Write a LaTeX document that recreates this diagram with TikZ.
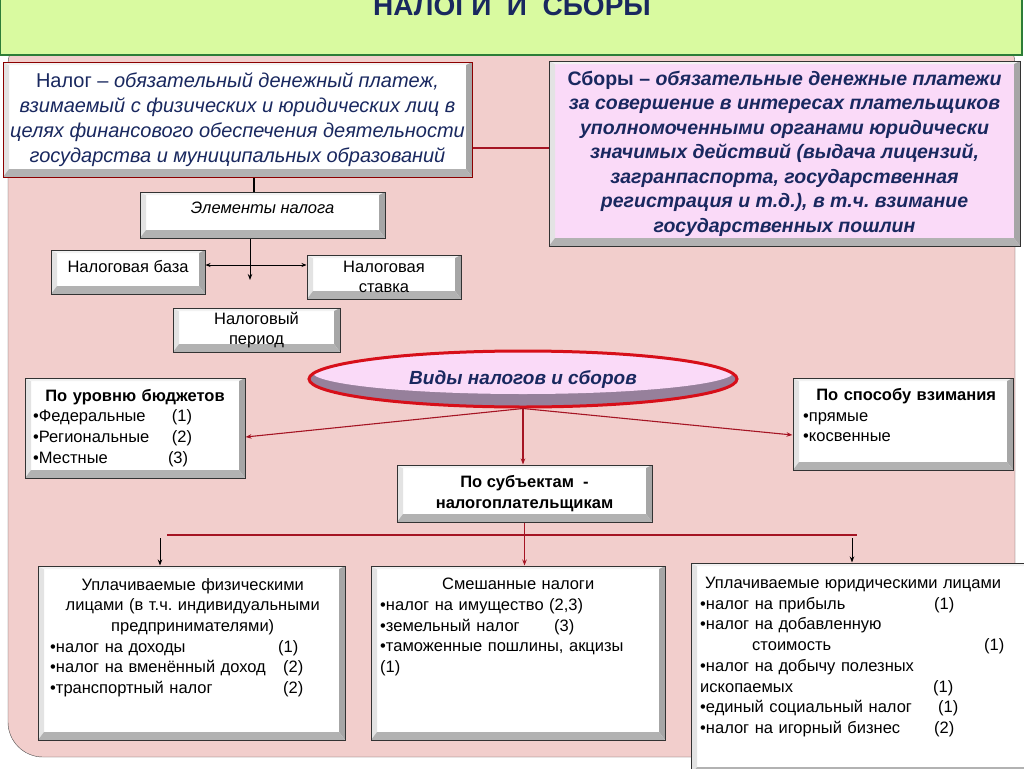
\documentclass[tikz,border=0pt]{standalone}
\usepackage{fontspec}
\setmainfont{Liberation Sans}
\usetikzlibrary{shapes.geometric, arrows.meta}
\frenchspacing

\definecolor{bandgreen}{RGB}{217,250,160}
\definecolor{bandedge}{RGB}{45,125,55}
\definecolor{panelpink}{RGB}{242,206,204}
\definecolor{navy}{RGB}{25,40,95}
\definecolor{feepink}{RGB}{250,218,248}
\definecolor{kindshade}{RGB}{150,128,155}
\definecolor{linkred}{RGB}{165,20,35}
\definecolor{ovalred}{RGB}{215,15,25}

\tikzset{
    bevel/.style = {draw = #1, fill = white, line width = 1pt, inner sep = 0pt, path picture = {
        \fill[gray!22] (path picture bounding box.south west) -- (path picture bounding box.north west) -- ([shift = {(6pt,-3pt)}]path picture bounding box.north west) -- ([shift = {(6pt,8pt)}]path picture bounding box.south west) -- cycle;
        \fill[gray!10] (path picture bounding box.north west) -- (path picture bounding box.north east) -- ([shift = {(-6pt,-3pt)}]path picture bounding box.north east) -- ([shift = {(6pt,-3pt)}]path picture bounding box.north west) -- cycle;
        \fill[gray!70] (path picture bounding box.north east) -- (path picture bounding box.south east) -- ([shift = {(-6pt,8pt)}]path picture bounding box.south east) -- ([shift = {(-6pt,-3pt)}]path picture bounding box.north east) -- cycle;
        \fill[gray!60] (path picture bounding box.south west) -- (path picture bounding box.south east) -- ([shift = {(-6pt,8pt)}]path picture bounding box.south east) -- ([shift = {(6pt,8pt)}]path picture bounding box.south west) -- cycle;
    }},
    bevel/.default = black!80,
    link/.style = {draw = linkred, line width = 1.1pt},
    tip/.style = {-{Stealth[length = 6pt, width = 4.5pt]}},
    small/.style = {font = \fontsize{16.5}{20.7}\selectfont},
}

\begin{document}
\begin{tikzpicture}[x = 1pt, y = -1pt]
    \useasboundingbox (0, 0) rectangle (1024, 768);
    % background
    \draw[fill = panelpink, draw = black!70, rounded corners = 35pt] (8, 30) rectangle (1015, 757);
    \draw[fill = bandgreen, draw = bandedge, line width = 2pt] (0, -20) rectangle (1022, 55);
    \node (title) [anchor = base, text = navy, font = \bfseries\fontsize{28}{28}\selectfont] at (512, 16) {НАЛОГИ\ \ И\ \ СБОРЫ};

    % definitions
    \node (taxdef) [bevel = red!55!black, minimum width = 469, minimum height = 115, align = center, text = navy, font = \itshape\fontsize{20}{25}\selectfont] at (237.5, 119.5)
        {{\upshape Налог –} обязательный денежный платеж,\\ взимаемый с физических и юридических лиц в\\ целях финансового обеспечения деятельности\\ государства и муниципальных образований};
    \node (feedef) [bevel, fill = feepink, minimum width = 471, minimum height = 185, align = center, text = navy, font = \bfseries\itshape\fontsize{19.5}{24.5}\selectfont] at (784.5, 153.5)
        {{\upshape Сборы –} обязательные денежные платежи\\ за совершение в интересах плательщиков\\ уполномоченными органами юридически\\ значимых действий (выдача лицензий,\\ загранпаспорта, государственная\\ регистрация и т.д.), в т.ч. взимание\\ государственных пошлин};

    % elements
    \node (elements) [bevel, minimum width = 245, minimum height = 46, small, text depth = 14pt] at (262.5, 215) {\itshape Элементы налога};
    \node (base) [bevel, minimum width = 154, minimum height = 44, small, text depth = 12pt] at (128, 272) {Налоговая база};
    \node (rate) [bevel, minimum width = 154, minimum height = 44, small, align = center] at (384, 277) {Налоговая\\ ставка};
    \node (period) [bevel, minimum width = 167, minimum height = 44, small, align = center] at (256.5, 330) {Налоговый\\ период};

    % kinds
    \node (kinds) [ellipse, minimum width = 428, minimum height = 56, draw = ovalred, line width = 3pt, fill = kindshade, text = navy, font = \bfseries\itshape\fontsize{19}{19}\selectfont,
        path picture = {\fill[feepink] ([yshift = 7pt]path picture bounding box.center) ellipse [x radius = 211pt, y radius = 22pt];}] at (523, 379) {Виды налогов и сборов};
    \node (budget) [bevel, minimum width = 220, minimum height = 100, small, text width = 204, align = left] at (135, 428)
        {\makebox[\linewidth]{\bfseries По уровню бюджетов}\\ \makebox[139pt][l]{•Федеральные}(1)\\ \makebox[139pt][l]{•Региональные}(2)\\ \makebox[135pt][l]{•Местные}(3)};
    \node (method) [bevel, minimum width = 220, minimum height = 92] at (903, 424) {};
    \node (method-t) [small, anchor = north west, inner sep = 0pt, text width = 206, align = left] at (803, 388)
        {\makebox[\linewidth]{\bfseries По способу взимания}\\ •прямые\\ •косвенные};
    \node (subjects) [bevel, minimum width = 255, minimum height = 57, align = center, font = \bfseries\fontsize{16.5}{20.7}\selectfont] at (524.5, 493.5) {По субъектам\ \ -\\ налогоплательщикам};

    % payers
    \node (phys) [bevel, minimum width = 307, minimum height = 174] at (191.5, 653) {};
    \node (phys-t) [small, anchor = north west, inner sep = 0pt, text width = 285, align = left] at (50, 578)
        {\makebox[\linewidth]{Уплачиваемые физическими}\\ \makebox[\linewidth]{лицами (в т.ч. индивидуальными}\\ \makebox[\linewidth]{предпринимателями)}\\
         \makebox[228pt][l]{•налог на доходы}(1)\\ \makebox[233pt][l]{•налог на вменённый доход}(2)\\ \makebox[233pt][l]{•транспортный налог}(2)};
    \node (mixed) [bevel, minimum width = 294, minimum height = 174] at (518, 653) {};
    \node (mixed-t) [small, anchor = north west, inner sep = 0pt, text width = 276, align = left] at (380, 578)
        {\makebox[\linewidth]{Смешанные налоги}\\ •налог на имущество (2,3)\\ \makebox[174pt][l]{•земельный налог}(3)\\ •таможенные пошлины, акцизы\\ (1)};
    \node (legal) [bevel, minimum width = 339, minimum height = 212] at (860.5, 669) {};
    \node (legal-t) [small, anchor = north west, inner sep = 0pt, text width = 320, align = left] at (700, 577)
        {\hspace*{5pt}Уплачиваемые юридическими лицами\\ \makebox[234pt][l]{•налог на прибыль}(1)\\ •налог на добавленную\\ \hspace*{52pt}\makebox[232pt][l]{стоимость}(1)\\
         •налог на добычу полезных\\ \makebox[233pt][l]{ископаемых}(1)\\ \makebox[238pt][l]{•единый социальный налог}(1)\\ \makebox[234pt][l]{•налог на игорный бизнес}(2)};

    % connectors
    \coordinate (fork) at (250, 265);
    \coordinate (forkend) at (250, 280);
    \coordinate (busL) at (167, 535);
    \coordinate (busR) at (857, 535);
    \coordinate (physin) at (160, 538);
    \coordinate (legalin) at (852, 538);
    \draw[link] (taxdef.east |- 0, 148) -- (feedef.west |- 0, 148);
    \draw[line width = 1.5pt] (taxdef.south -| 254, 0) -- (elements.north -| 254, 0);
    \draw[line width = 1pt, tip] (elements.south -| fork) -- (forkend);
    \draw[line width = 1pt, {Stealth[length = 5pt, width = 4pt]}-{Stealth[length = 5pt, width = 4pt]}] (base.east |- fork) -- (rate.west |- fork);
    \draw[link, tip] (kinds.south) -- (budget.east |- 0, 437);
    \draw[link, tip] (kinds.south) -- (method.west |- 0, 435);
    \draw[link, tip] (kinds.south) -- (kinds.south |- subjects.north);
    \draw[link] (subjects.south) -- (subjects.south |- busL);
    \draw[link] (busL) -- (busR);
    \draw[link, tip] (subjects.south |- busL) -- (subjects.south |- mixed.north);
    \draw[line width = 1pt, tip] (physin) -- (physin |- phys.north);
    \draw[line width = 1pt, tip] (legalin) -- (legalin |- legal.north);
\end{tikzpicture}
\end{document}
